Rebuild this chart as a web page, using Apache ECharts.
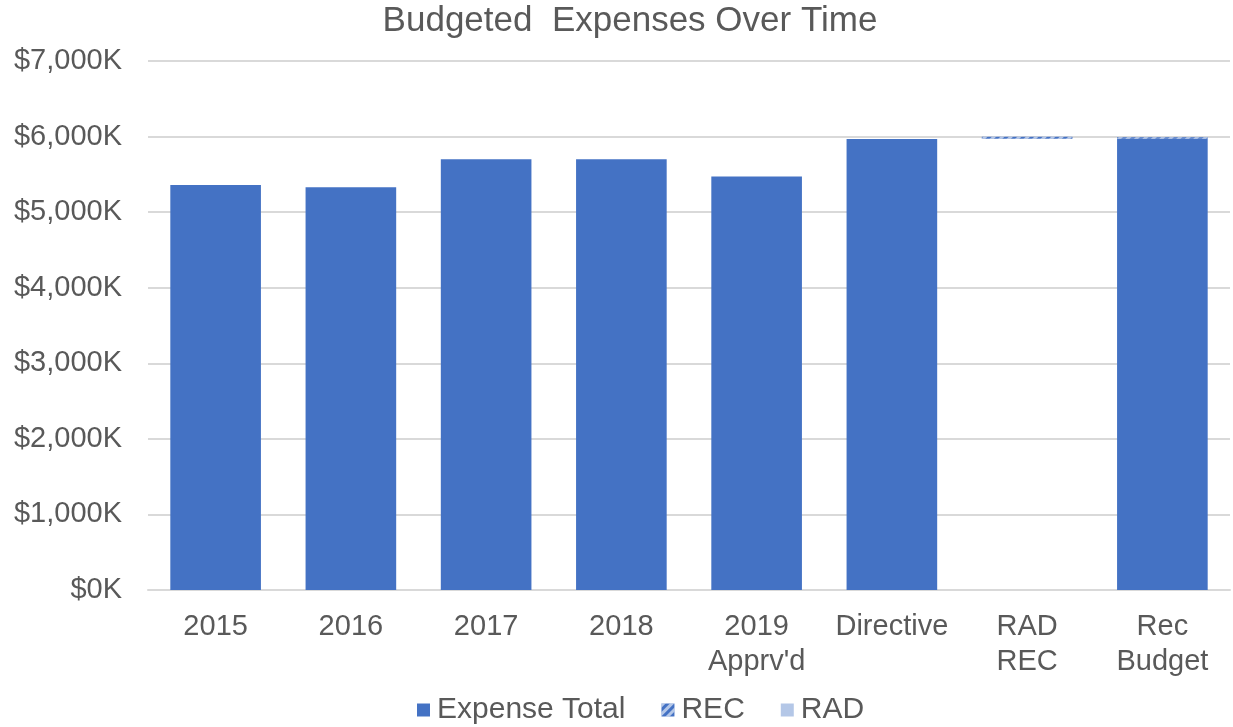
<!DOCTYPE html>
<html><head><meta charset="utf-8">
<script src="https://cdn.jsdelivr.net/npm/echarts@6/dist/echarts.min.js"></script>
<style>html,body{margin:0;padding:0;background:#fff}#c{width:1233px;height:727px}</style>
</head><body><div id="c"></div>
<script>
const categories = ['2015','2016','2017','2018','2019\nApprv\'d','Directive','RAD\nREC','Rec\nBudget'];
const expenseTotal = [5360, 5330, 5700, 5700, 5470, 5968, '-', 5972];
const recBase = ['-', '-', '-', '-', '-', '-', 5972, '-'];
const rec = ['-', '-', '-', '-', '-', '-', 25, 20];
const rad = ['-', '-', '-', '-', '-', '-', '-', '-'];
const yTicks = [0, 1000, 2000, 3000, 4000, 5000, 6000, 7000];

const font = 'Liberation Sans, Arial, sans-serif';
const chart = echarts.init(document.getElementById('c'));
chart.setOption({
  animation: false,
  title: {text: 'Budgeted  Expenses Over Time', left: 625, textAlign: 'center', top: 2, padding: [2, 5],
    textStyle: {fontFamily: font, fontSize: 35, fontWeight: 'normal', color: '#595959'}},
  grid: {left: 148, right: 3, top: 61, bottom: 137},
  legend: {bottom: -3, left: 412, icon: 'rect', itemWidth: 13, itemHeight: 13, itemGap: 36,
    data: ['Expense Total', 'REC', 'RAD'],
    textStyle: {fontFamily: font, fontSize: 30, color: '#595959', padding: [0, 0, 0, 2]}},
  xAxis: {type: 'category', data: categories,
    axisLine: {lineStyle: {color: '#d9d9d9', width: 2}}, axisTick: {show: false},
    axisLabel: {interval: 0, fontFamily: font, fontSize: 29, color: '#595959', lineHeight: 35, margin: 19}},
  yAxis: {type: 'value', min: yTicks[0], max: yTicks[yTicks.length-1], interval: 1000,
    axisLine: {show: false}, axisTick: {show: false},
    splitLine: {lineStyle: {color: '#d9d9d9', width: 2}},
    axisLabel: {fontFamily: font, fontSize: 29, color: '#595959', margin: 26,
      formatter: v => '$' + v.toLocaleString('en-US') + 'K'}},
  series: [
    {name: 'base', type: 'bar', stack: 's', data: recBase, barCategoryGap: '33%',
      itemStyle: {color: 'rgba(0,0,0,0)'}, silent: true},
    {name: 'Expense Total', type: 'bar', stack: 's', data: expenseTotal,
      itemStyle: {color: '#4472C4'}},
    {name: 'REC', type: 'bar', stack: 's', data: rec,
      itemStyle: {color: '#4472C4', decal: {symbol: 'rect', dashArrayX: [1, 0], dashArrayY: [3, 3], rotation: -Math.PI / 4, color: 'rgba(255,255,255,0.6)'}}},
    {name: 'RAD', type: 'bar', stack: 's', data: rad,
      itemStyle: {color: '#B4C7E7'}}
  ]
});
</script></body></html>
